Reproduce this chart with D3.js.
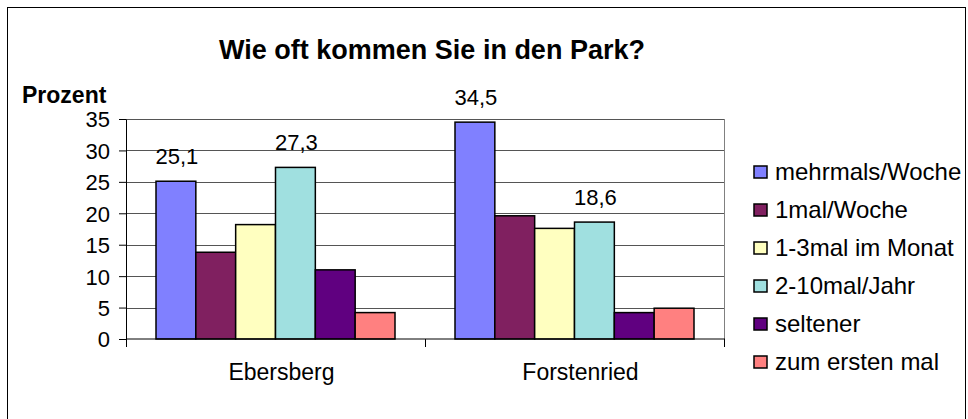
<!DOCTYPE html>
<meta charset="utf-8">
<style>
body { margin: 0; background: #fff; }
text { font-family: "Liberation Sans", Arial, sans-serif; fill: #000; }
.bar { stroke: #000; stroke-width: 1.5px; }
.grid line { stroke: #555; }
</style>
<body>
<script src="https://d3js.org/d3.v7.min.js"></script>
<script>

// data
var categories = ["Ebersberg", "Forstenried"];
var series = ["mehrmals/Woche", "1mal/Woche", "1-3mal im Monat", "2-10mal/Jahr", "seltener", "zum ersten mal"];
var ebersberg = [25.1, 13.8, 18.2, 27.3, 11.0, 4.2];
var forstenried = [34.5, 19.6, 17.6, 18.6, 4.2, 4.9];
var labelled = [0, 3]; // series that carry value labels
var yTicks = [0, 5, 10, 15, 20, 25, 30, 35];
var colors = ["#8080FF", "#802060", "#FFFFC0", "#A0E0E0", "#600080", "#FF8080"];

var values = [ebersberg, forstenried];

var width = 968, height = 419;
var plot = {left: 126, right: 724, top: 119, bottom: 339};

var svg = d3.select("body").append("svg")
    .attr("width", width)
    .attr("height", height);

// outer frame
svg.append("rect")
    .attr("x", 7.5).attr("y", 7.5)
    .attr("width", 958).attr("height", 430)
    .attr("fill", "none")
    .attr("stroke", "#000");

var x0 = d3.scaleBand()
    .domain(categories)
    .range([plot.left, plot.right]);

var x1 = d3.scaleBand()
    .domain(d3.range(series.length))
    .range([30, x0.bandwidth() - 30]);

var y = d3.scaleLinear()
    .domain([0, 35])
    .range([plot.bottom, plot.top]);

// gridlines
svg.append("g")
    .attr("class", "grid")
    .selectAll("line")
    .data(yTicks.slice(1))
    .enter().append("line")
    .attr("x1", plot.left).attr("x2", plot.right)
    .attr("y1", function(d) { return Math.round(y(d)) + 0.5; })
    .attr("y2", function(d) { return Math.round(y(d)) + 0.5; });

// right border of plot area
svg.append("line")
    .attr("x1", plot.right + 0.5).attr("x2", plot.right + 0.5)
    .attr("y1", plot.top).attr("y2", plot.bottom)
    .attr("stroke", "#808080");

// bars
var groups = svg.selectAll(".group")
    .data(categories)
    .enter().append("g")
    .attr("class", "group")
    .attr("transform", function(d) { return "translate(" + x0(d) + ",0)"; });

groups.selectAll("rect")
    .data(function(d, i) { return values[i]; })
    .enter().append("rect")
    .attr("class", "bar")
    .attr("x", function(d, i) { return x1(i); })
    .attr("y", function(d) { return y(d); })
    .attr("width", x1.bandwidth())
    .attr("height", function(d) { return y(0) - y(d); })
    .attr("fill", function(d, i) { return colors[i]; });

// value labels
groups.selectAll(".val")
    .data(function(d, i) { return values[i].map(function(v, j) { return {v: v, j: j}; })
        .filter(function(o) { return labelled.indexOf(o.j) >= 0; }); })
    .enter().append("text")
    .attr("class", "val")
    .attr("x", function(d) { return x1(d.j) + x1.bandwidth() / 2 + 1; })
    .attr("y", function(d) { return y(d.v) - 17; })
    .attr("text-anchor", "middle")
    .style("font-size", "22px")
    .text(function(d) { return String(d.v).replace(".", ","); });

// y axis
var yAxis = svg.append("g")
    .attr("transform", "translate(" + plot.left + ",0)")
    .call(d3.axisLeft(y).tickValues(yTicks).tickSize(7).tickPadding(9).tickSizeOuter(0));
yAxis.selectAll("text").style("font-size", "22px").attr("dy", "0.36em");
yAxis.select(".domain").attr("stroke", "#000");

// x axis
var xAxis = svg.append("g")
    .attr("transform", "translate(0," + plot.bottom + ")");
xAxis.append("line")
    .attr("x1", plot.left).attr("x2", plot.right + 1)
    .attr("stroke", "#000");
xAxis.selectAll(".xt")
    .data(categories.concat(["end"]))
    .enter().append("line")
    .attr("class", "xt")
    .attr("x1", function(d, i) { return Math.round(plot.left + i * x0.bandwidth()) + 0.5; })
    .attr("x2", function(d, i) { return Math.round(plot.left + i * x0.bandwidth()) + 0.5; })
    .attr("y1", 0).attr("y2", 8)
    .attr("stroke", "#000");
xAxis.selectAll(".xl")
    .data(categories)
    .enter().append("text")
    .attr("class", "xl")
    .attr("x", function(d) { return x0(d) + x0.bandwidth() / 2 + 6; })
    .attr("y", 41)
    .attr("text-anchor", "middle")
    .style("font-size", "23px")
    .text(function(d) { return d; });

// titles
svg.append("text")
    .attr("x", 432).attr("y", 59)
    .attr("text-anchor", "middle")
    .style("font-size", "27px")
    .style("font-weight", "bold")
    .text("Wie oft kommen Sie in den Park?");

svg.append("text")
    .attr("x", 22).attr("y", 103)
    .style("font-size", "23px")
    .style("font-weight", "bold")
    .text("Prozent");

// legend
var legend = svg.selectAll(".legend")
    .data(series)
    .enter().append("g")
    .attr("class", "legend")
    .attr("transform", function(d, i) { return "translate(754," + (166 + i * 38) + ")"; });

legend.append("rect")
    .attr("width", 13).attr("height", 12)
    .attr("fill", function(d, i) { return colors[i]; })
    .attr("stroke", "#000")
    .attr("stroke-width", 1.5);

legend.append("text")
    .attr("x", 21).attr("y", 14)
    .style("font-size", "24px")
    .text(function(d) { return d; });

</script>
</body>
